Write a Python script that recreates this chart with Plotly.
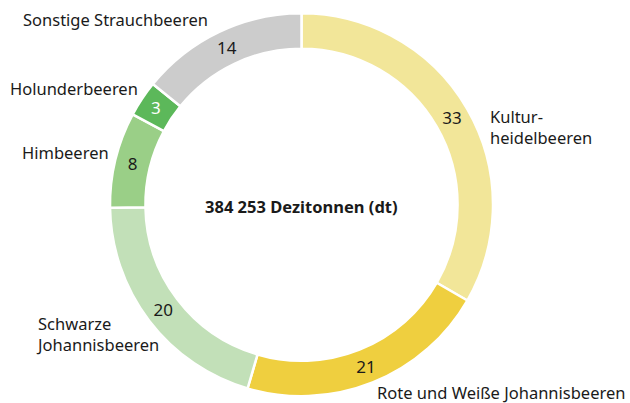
import plotly.graph_objects as go

categories = ["Kulturheidelbeeren", "Rote und Weiße Johannisbeeren", "Schwarze Johannisbeeren",
              "Himbeeren", "Holunderbeeren", "Sonstige Strauchbeeren"]
values = [33, 21, 20, 8, 3, 14]
label_text = ["Kultur-<br>heidelbeeren", "Rote und Weiße Johannisbeeren", "Schwarze<br>Johannisbeeren",
              "Himbeeren", "Holunderbeeren", "Sonstige Strauchbeeren"]
colors = ["#F2E699", "#EFCF3F", "#C2E0B8", "#9ACF87", "#5CB85A", "#CCCCCC"]
text_colors = ["#1a1a1a", "#1a1a1a", "#1a1a1a", "#1a1a1a", "#ffffff", "#1a1a1a"]
center_text = "384 253 Dezitonnen (dt)"

FONT = "Noto Sans"
W, H = 630, 403

fig = go.Figure(go.Pie(
    labels=categories, values=values, sort=False, direction="clockwise", rotation=0,
    hole=0.815,
    marker=dict(colors=colors, line=dict(color="white", width=2.5)),
    texttemplate="%{value}", textposition="inside", insidetextorientation="horizontal",
    textfont=dict(family=FONT, size=17, color=text_colors),
    showlegend=False, hoverinfo="label+value",
    domain=dict(x=[110 / W, 493 / W], y=[(H - 396.5) / H, (H - 13) / H]),
))

# outer label positions (px x, px y, horizontal anchor)
label_pos = [(488, 127, "left"), (627, 392, "right"), (34, 334, "left"),
             (20, 153, "left"), (8, 88, "left"), (21, 19, "left")]
for txt, (x, y, anc) in zip(label_text, label_pos):
    fig.add_annotation(x=x / W, y=1 - y / H, xref="paper", yref="paper", text=txt,
                       showarrow=False, xanchor=anc, yanchor="middle", align="left",
                       font=dict(family=FONT, size=16.5, color="#1a1a1a"))

fig.add_annotation(x=301 / W, y=1 - 206 / H, xref="paper", yref="paper",
                   text="<b>" + center_text + "</b>", showarrow=False,
                   font=dict(family=FONT, size=16.5, color="#1a1a1a"))

fig.update_layout(width=W, height=H, margin=dict(l=0, r=0, t=0, b=0),
                  paper_bgcolor="white", plot_bgcolor="white")
fig.write_html("out.html", config={"displayModeBar": False},
               post_script="document.body.style.margin='0';")
